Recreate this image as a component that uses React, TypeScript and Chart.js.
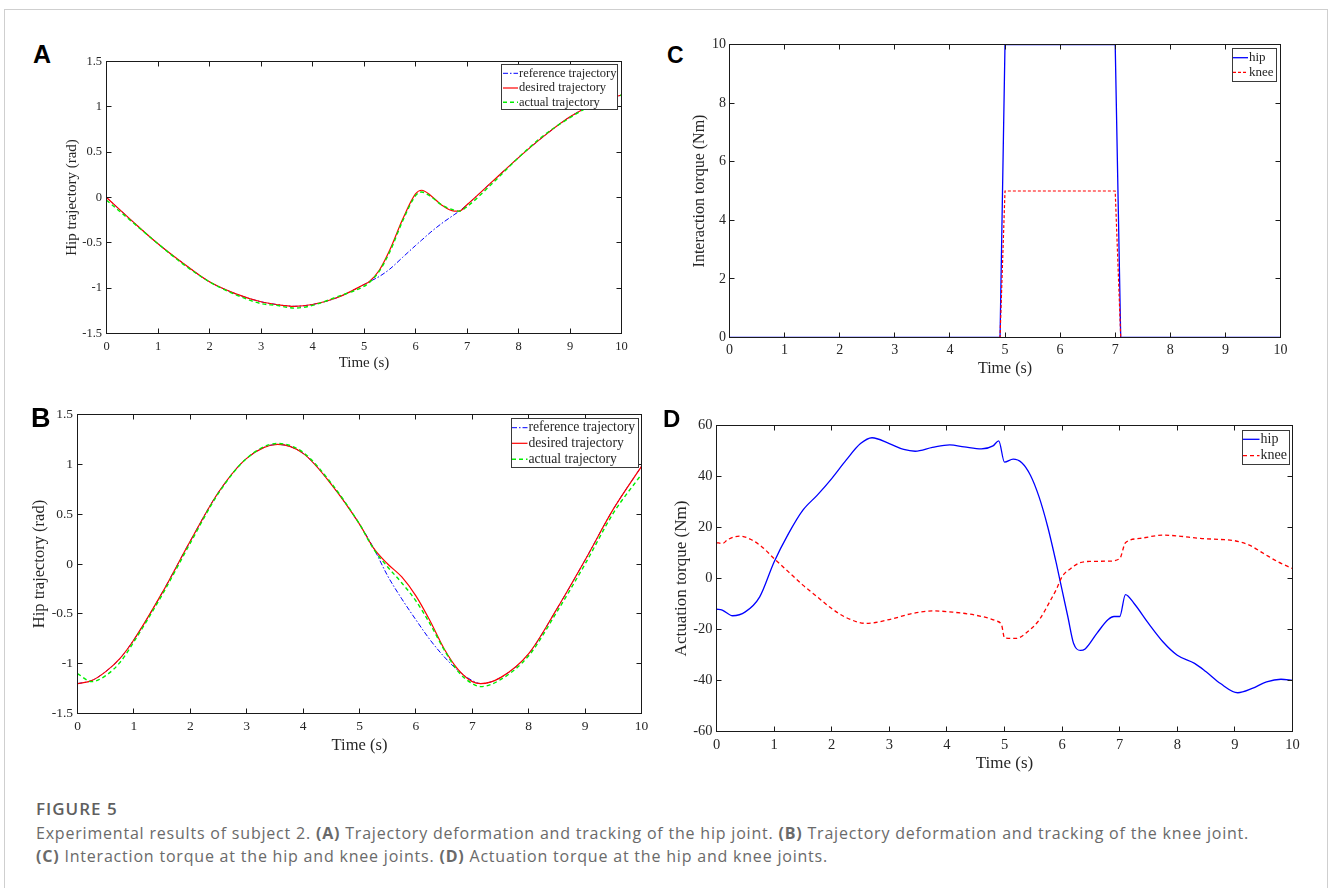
import React, { useEffect, useRef } from 'react';
import { Chart, registerables } from 'chart.js';

Chart.register(...registerables);

const SERIF = '"Liberation Serif", "Times New Roman", serif';
const SANS = '"Liberation Sans", Arial, sans-serif';
const TXT = '#262626';

// ---------- tick labels ----------
const xTicks = [0, 1, 2, 3, 4, 5, 6, 7, 8, 9, 10];
const yTicksTraj = [-1.5, -1, -0.5, 0, 0.5, 1, 1.5];
const yTicksC = [0, 2, 4, 6, 8, 10];
const yTicksD = [-60, -40, -20, 0, 20, 40, 60];

// ---------- panel A : hip trajectory ----------
const timeA = [0, 0.5, 1, 1.5, 2, 2.5, 3, 3.3, 3.65, 4, 4.5, 5, 5.1, 5.3, 5.5, 5.75, 6, 6.12, 6.3, 6.5, 6.75, 6.85, 7, 7.5, 8, 8.5, 9, 9.5, 10];
const refA = [0, -0.26, -0.51, -0.73, -0.93, -1.06, -1.15, -1.18, -1.2, -1.18, -1.1, -0.96, -0.93, -0.87, -0.79, -0.66, -0.53, -0.47, -0.38, -0.29, -0.19, -0.15, -0.08, 0.18, 0.44, 0.68, 0.89, 1.04, 1.13];
const desA = [0, -0.26, -0.51, -0.73, -0.93, -1.06, -1.15, -1.18, -1.2, -1.18, -1.1, -0.96, -0.93, -0.8, -0.58, -0.24, 0.04, 0.08, 0.02, -0.08, -0.15, -0.15, -0.08, 0.18, 0.44, 0.68, 0.89, 1.04, 1.13];
const actA = [-0.03, -0.27, -0.51, -0.74, -0.93, -1.07, -1.17, -1.19, -1.22, -1.19, -1.09, -0.98, -0.94, -0.81, -0.6, -0.26, 0.02, 0.06, 0.01, -0.08, -0.14, -0.15, -0.1, 0.16, 0.44, 0.69, 0.88, 1.04, 1.13];

// ---------- panel B : knee trajectory ----------
const timeB = [0, 0.25, 0.5, 0.75, 1, 1.5, 2, 2.5, 3, 3.55, 4, 4.5, 5, 5.25, 5.5, 5.75, 6, 6.25, 6.5, 6.75, 7, 7.15, 7.5, 8, 8.5, 9, 9.5, 10];
const refB = [-1.2, -1.17, -1.08, -0.95, -0.76, -0.29, 0.23, 0.72, 1.06, 1.2, 1.11, 0.8, 0.4, 0.16, -0.12, -0.35, -0.56, -0.76, -0.93, -1.07, -1.17, -1.2, -1.14, -0.9, -0.45, 0.04, 0.55, 0.98];
const desB = [-1.2, -1.17, -1.08, -0.95, -0.76, -0.29, 0.23, 0.72, 1.06, 1.2, 1.11, 0.8, 0.4, 0.16, 0.0, -0.13, -0.32, -0.57, -0.85, -1.06, -1.18, -1.2, -1.14, -0.9, -0.45, 0.04, 0.55, 0.98];
const actB = [-1.1, -1.18, -1.12, -0.99, -0.78, -0.31, 0.21, 0.71, 1.06, 1.21, 1.12, 0.81, 0.4, 0.15, -0.03, -0.19, -0.37, -0.6, -0.86, -1.08, -1.2, -1.23, -1.16, -0.92, -0.48, 0.0, 0.51, 0.9];

// ---------- panel C : interaction torque ----------
const timeC = [0, 4.91, 5.0, 7.0, 7.1, 10];
const hipC = [0, 0, 10, 10, 0, 0];
const kneeC = [0, 0, 5, 5, 0, 0];

// ---------- panel D : actuation torque ----------
const timeDhip = [0, 0.1, 0.28, 0.5, 0.75, 1, 1.25, 1.5, 1.75, 2, 2.25, 2.5, 2.7, 3, 3.25, 3.45, 3.75, 4.05, 4.3, 4.6, 4.8, 4.9, 5.0, 5.15, 5.3, 5.45, 5.6, 5.75, 5.9, 6.0, 6.1, 6.2, 6.32, 6.4, 6.6, 6.8, 6.9, 7.0, 7.1, 7.25, 7.5, 7.75, 8.0, 8.3, 8.5, 8.75, 9.05, 9.3, 9.55, 9.8, 10];
const hipD = [-12.0, -12.4, -14.6, -13.1, -7.2, 6.5, 17.6, 26.8, 32.7, 39.2, 46.4, 52.9, 55.2, 52.9, 50.6, 49.9, 51.4, 52.4, 51.6, 50.8, 52, 54, 45.6, 46.8, 45.4, 40.5, 32, 20.3, 5.9, -4.6, -15, -25.5, -28.2, -27.6, -21.6, -16.1, -14.9, -14.9, -6.3, -9.8, -17.6, -24.8, -30.1, -33.3, -36.6, -41.2, -44.8, -43.1, -40.5, -39.5, -40];
const timeDknee = [0, 0.1, 0.2, 0.4, 0.6, 0.8, 1.0, 1.25, 1.5, 1.75, 2.0, 2.25, 2.6, 3.0, 3.4, 3.75, 4.1, 4.5, 4.85, 4.95, 5.0, 5.2, 5.4, 5.6, 5.8, 5.9, 6.0, 6.15, 6.3, 6.5, 6.8, 7.0, 7.1, 7.35, 7.75, 8.0, 8.4, 8.75, 9.0, 9.25, 9.5, 9.75, 10];
const kneeD = [14.1, 13.7, 15.3, 16.6, 15.3, 12.2, 7.8, 2.6, -2.6, -7.2, -11.8, -15.3, -17.6, -16.1, -13.7, -12.7, -13.2, -14.4, -16.6, -18.3, -23.3, -23.5, -20.9, -16.3, -8.5, -4.3, 0.7, 3.9, 6.1, 6.7, 6.8, 7.8, 14, 15.7, 17, 16.7, 15.7, 15.3, 14.8, 13.1, 9.8, 6.5, 3.9];

const pts = (xs: number[], ys: number[]) => xs.map((x, i) => ({ x, y: ys[i] }));

// ---------- plugins ----------
const framePlugin = {
  id: 'matlabFrame',
  afterDatasetsDraw(chart: any) {
    const { ctx, chartArea: a, scales } = chart;
    ctx.save();
    ctx.strokeStyle = '#1a1a1a';
    ctx.lineWidth = 1;
    ctx.setLineDash([]);
    ctx.strokeRect(a.left, a.top, a.right - a.left, a.bottom - a.top);
    const L = 5;
    const snap = (v: number) => Math.round(v - 0.5) + 0.5;
    ctx.beginPath();
    scales.x.ticks.forEach((t: any) => {
      const px = snap(scales.x.getPixelForValue(t.value));
      ctx.moveTo(px, a.bottom); ctx.lineTo(px, a.bottom - L);
      ctx.moveTo(px, a.top); ctx.lineTo(px, a.top + L);
    });
    scales.y.ticks.forEach((t: any) => {
      const py = snap(scales.y.getPixelForValue(t.value));
      ctx.moveTo(a.left, py); ctx.lineTo(a.left + L, py);
      ctx.moveTo(a.right, py); ctx.lineTo(a.right - L, py);
    });
    ctx.stroke();
    ctx.restore();
  },
};

const legendPlugin = {
  id: 'matlabLegend',
  afterDraw(chart: any, _args: any, opts: any) {
    if (!opts || !opts.box) return;
    const { ctx } = chart;
    const [ox, oy] = opts.origin;
    const [bx, by, bw, bh] = opts.box;
    ctx.save();
    ctx.fillStyle = '#ffffff';
    ctx.fillRect(bx - ox, by - oy, bw, bh);
    ctx.strokeStyle = '#3a3a3a';
    ctx.lineWidth = 1;
    ctx.setLineDash([]);
    ctx.strokeRect(Math.round(bx - ox) + 0.5, Math.round(by - oy) + 0.5, Math.round(bw), Math.round(bh));
    ctx.font = `${opts.fontSize}px ${SERIF}`;
    ctx.textBaseline = 'middle';
    ctx.textAlign = 'left';
    chart.data.datasets.forEach((ds: any, i: number) => {
      const y = opts.rows[i] - oy;
      ctx.beginPath();
      ctx.setLineDash(ds.borderDash || []);
      ctx.strokeStyle = ds.borderColor;
      ctx.lineWidth = ds.borderWidth;
      ctx.moveTo(opts.line[0] - ox, y);
      ctx.lineTo(opts.line[1] - ox, y);
      ctx.stroke();
      ctx.setLineDash([]);
      ctx.fillStyle = TXT;
      ctx.fillText(ds.label, opts.textX - ox, y);
    });
    ctx.restore();
  },
};

// ---------- panel layout ----------
type PanelSpec = {
  left: number; top: number; width: number; height: number;
  padTop: number; padRight: number; yW: number; xH: number;
  tickSize: number; titleSize: number; xPad: number; yPad: number;
  yMin: number; yMax: number; yTicks: number[]; yTitle: string;
  datasets: any[];
  legend: any;
};

function buildConfig(p: PanelSpec): any {
  const tickFont = { family: SERIF, size: p.tickSize };
  const titleFont = { family: SERIF, size: p.titleSize };
  return {
    type: 'line',
    data: { datasets: p.datasets },
    plugins: [framePlugin, legendPlugin],
    options: {
      responsive: false,
      animation: false,
      devicePixelRatio: 1,
      events: [],
      layout: { padding: { top: p.padTop, right: p.padRight, left: 0, bottom: 0 } },
      elements: { point: { radius: 0 } },
      plugins: {
        legend: { display: false },
        tooltip: { enabled: false },
        matlabLegend: { ...p.legend, origin: [p.left, p.top] },
      },
      scales: {
        x: {
          type: 'linear', min: 0, max: 10,
          afterBuildTicks: (s: any) => { s.ticks = xTicks.map((v) => ({ value: v })); },
          afterFit: (s: any) => { s.height = p.xH; },
          grid: { display: false, drawTicks: false },
          border: { display: false },
          ticks: { font: tickFont, color: TXT, padding: p.xPad, maxRotation: 0, autoSkip: false, callback: (v: any) => String(v) },
          title: { display: true, text: 'Time (s)', font: titleFont, color: TXT, padding: 0 },
        },
        y: {
          type: 'linear', min: p.yMin, max: p.yMax,
          afterBuildTicks: (s: any) => { s.ticks = p.yTicks.map((v) => ({ value: v })); },
          afterFit: (s: any) => { s.width = p.yW; },
          grid: { display: false, drawTicks: false },
          border: { display: false },
          ticks: { font: tickFont, color: TXT, padding: p.yPad, autoSkip: false, callback: (v: any) => String(v) },
          title: { display: true, text: p.yTitle, font: titleFont, color: TXT, padding: 0 },
        },
      },
    },
  };
}

function Panel({ spec }: { spec: PanelSpec }) {
  const ref = useRef<HTMLCanvasElement | null>(null);
  useEffect(() => {
    if (!ref.current) return;
    const chart = new Chart(ref.current, buildConfig(spec));
    return () => chart.destroy();
  }, [spec]);
  return (
    <canvas
      ref={ref}
      width={spec.width}
      height={spec.height}
      style={{ position: 'absolute', left: spec.left, top: spec.top, width: spec.width, height: spec.height }}
    />
  );
}

const line = (label: string, xs: number[], ys: number[], color: string, width: number, dash: number[], order: number, smooth = true) => ({
  label,
  data: pts(xs, ys),
  borderColor: color,
  backgroundColor: color,
  borderWidth: width,
  borderDash: dash,
  fill: false,
  pointRadius: 0,
  order,
  cubicInterpolationMode: smooth ? 'monotone' : 'default',
  tension: 0,
});

const BLUE = '#0000ff';
const RED = '#ff0000';
const GREEN = '#00ee00';

const specA: PanelSpec = {
  left: 63, top: 48, width: 577, height: 324,
  padTop: 13.5, padRight: 18.5, yW: 43.5, xH: 38.5,
  tickSize: 12.5, titleSize: 15, xPad: 6, yPad: 4.5,
  yMin: -1.5, yMax: 1.5, yTicks: yTicksTraj, yTitle: 'Hip trajectory (rad)',
  datasets: [
    line('reference trajectory', timeA, refA, BLUE, 1, [5, 2, 1.5, 2], 2),
    line('desired trajectory', timeA, desA, RED, 1.2, [], 1),
    line('actual trajectory', timeA, actA, GREEN, 1.4, [4, 3], 0),
  ],
  legend: { box: [501, 64, 116, 45], rows: [73.3, 88, 102.3], line: [503, 518], textX: 519, fontSize: 12.5 },
};

const specB: PanelSpec = {
  left: 30, top: 400, width: 630, height: 356,
  padTop: 14.5, padRight: 18.5, yW: 47.5, xH: 42.5,
  tickSize: 13.5, titleSize: 16.5, xPad: 5, yPad: 4.5,
  yMin: -1.5, yMax: 1.5, yTicks: yTicksTraj, yTitle: 'Hip trajectory (rad)',
  datasets: [
    line('reference trajectory', timeB, refB, BLUE, 1, [5, 2, 1.5, 2], 2),
    line('desired trajectory', timeB, desB, RED, 1.2, [], 1),
    line('actual trajectory', timeB, actB, GREEN, 1.4, [4, 3], 0),
  ],
  legend: { box: [511, 418, 127, 49], rows: [427.7, 443.3, 459.3], line: [512, 527.5], textX: 528.4, fontSize: 13.7 },
};

const specC: PanelSpec = {
  left: 690, top: 30, width: 610, height: 348,
  padTop: 14.5, padRight: 19.5, yW: 39.5, xH: 40.5,
  tickSize: 14, titleSize: 16, xPad: 4, yPad: 3.5,
  yMin: 0, yMax: 10, yTicks: yTicksC, yTitle: 'Interaction torque (Nm)',
  datasets: [
    line('hip', timeC, hipC, BLUE, 1.3, [], 1, false),
    line('knee', timeC, kneeC, RED, 1.2, [3, 2], 0, false),
  ],
  legend: { box: [1232, 48, 44, 33], rows: [57.7, 72.3], line: [1233, 1248], textX: 1249, fontSize: 13 },
};

const specD: PanelSpec = {
  left: 671, top: 410, width: 647, height: 364,
  padTop: 15.5, padRight: 25.5, yW: 45.5, xH: 42.5,
  tickSize: 14.5, titleSize: 17, xPad: 5, yPad: 4,
  yMin: -60, yMax: 60, yTicks: yTicksD, yTitle: 'Actuation torque (Nm)',
  datasets: [
    line('hip', timeDhip, hipD, BLUE, 1.3, [], 1),
    line('knee', timeDknee, kneeD, RED, 1.3, [4, 3], 0),
  ],
  legend: { box: [1242, 430, 47, 34], rows: [439.3, 455.7], line: [1243, 1259.5], textX: 1260.6, fontSize: 14 },
};

const letterStyle = (left: number, top: number, size: number): React.CSSProperties => ({
  position: 'absolute', left, top, fontFamily: SANS, fontWeight: 700, fontSize: size, lineHeight: `${size}px`, color: '#000',
});

const capStyle = (top: number, size: number, weight: number, color: string, ls: number): React.CSSProperties => ({
  position: 'absolute', left: 36, top, fontFamily: '"Open Sans", "Noto Sans", sans-serif', fontSize: size,
  lineHeight: `${size}px`, fontWeight: weight, color, whiteSpace: 'nowrap', letterSpacing: ls,
});

export default function App() {
  return (
    <div style={{ position: 'fixed', left: 0, top: 0, width: 1328, height: 888, background: '#fff', overflow: 'hidden' }}>
      <div style={{ position: 'absolute', left: 4, top: 9, width: 1324, height: 920, border: '1px solid #cfcfcf', boxSizing: 'border-box' }} />
      <Panel spec={specA} />
      <Panel spec={specB} />
      <Panel spec={specC} />
      <Panel spec={specD} />
      <div style={letterStyle(33, 41.7, 25)}>A</div>
      <div style={letterStyle(31, 404.8, 27)}>B</div>
      <div style={letterStyle(667, 43.5, 23)}>C</div>
      <div style={letterStyle(663, 406.9, 24)}>D</div>
      <div style={capStyle(799.9, 17, 600, '#5f5f5f', 1)}>FIGURE 5</div>
      <div style={capStyle(824.8, 16, 400, '#6a6a6a', 0.8)}>
        Experimental results of subject 2. <b>(A)</b> Trajectory deformation and tracking of the hip joint. <b>(B)</b> Trajectory deformation and tracking of the knee joint.
      </div>
      <div style={capStyle(847.8, 16, 400, '#6a6a6a', 0.8)}>
        <b>(C)</b> Interaction torque at the hip and knee joints. <b>(D)</b> Actuation torque at the hip and knee joints.
      </div>
    </div>
  );
}
